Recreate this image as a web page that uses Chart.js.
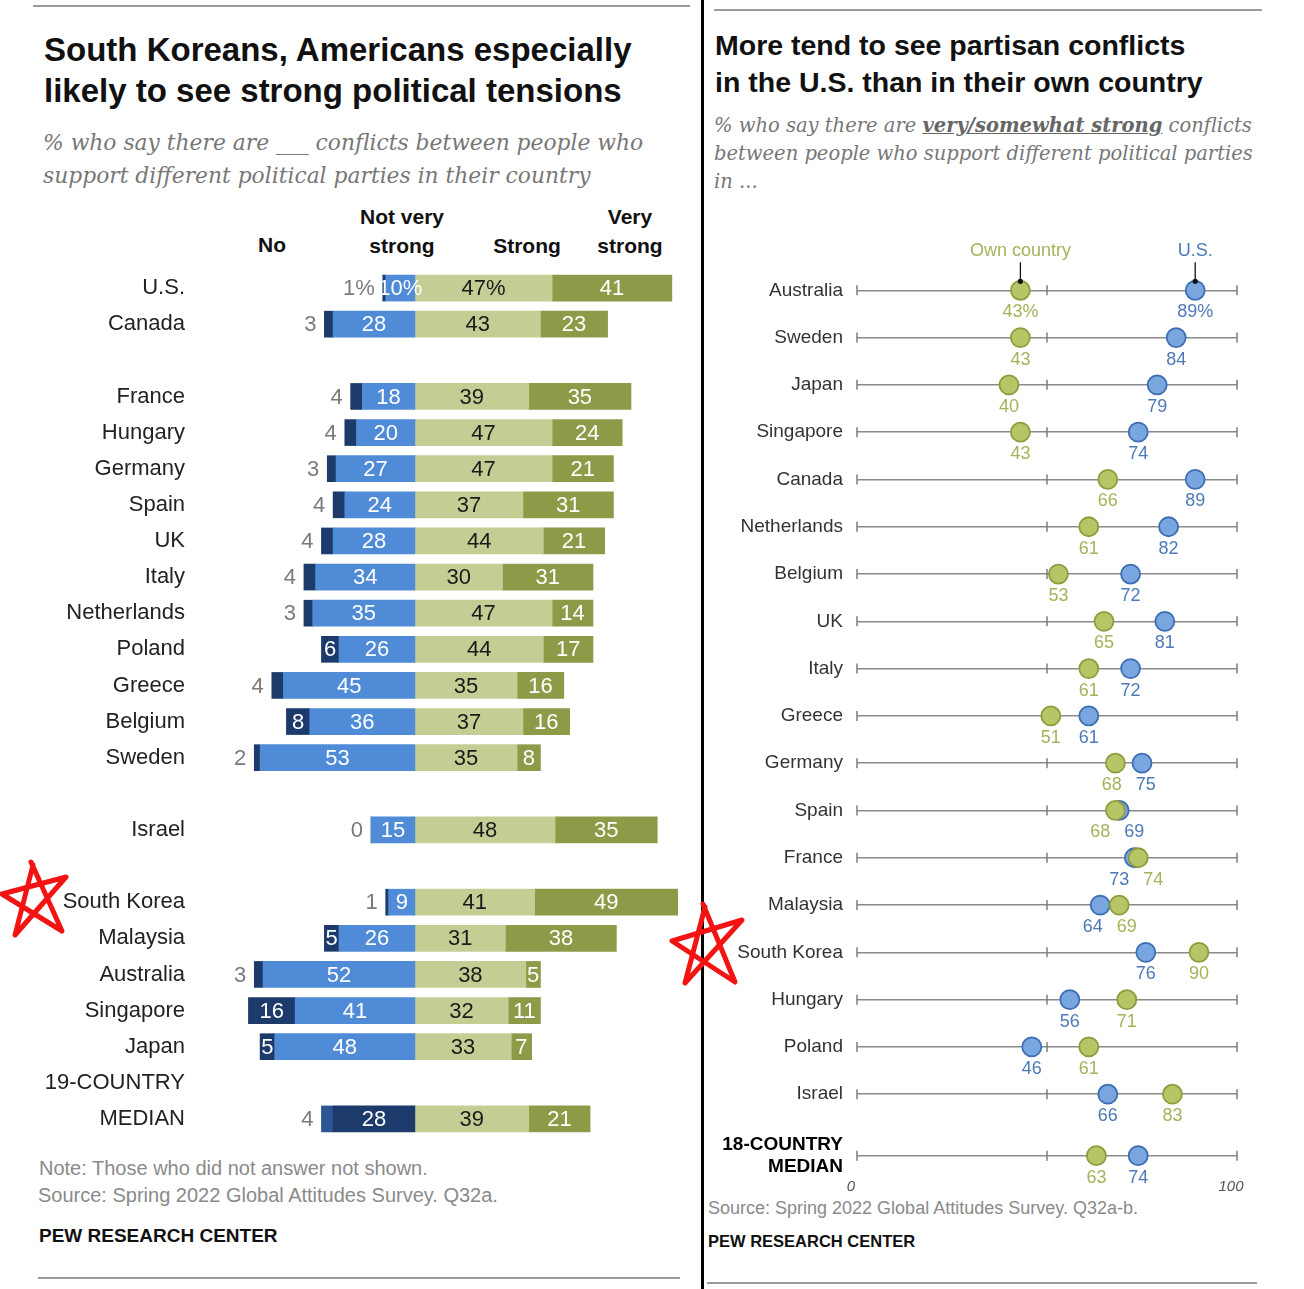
<!DOCTYPE html>
<html>
<head>
<meta charset="utf-8">
<script src="https://cdn.jsdelivr.net/npm/chart.js@4.4.0/dist/chart.umd.min.js"></script>
<style>
  body { margin:0; background:#fff; width:1304px; height:1289px; position:relative; overflow:hidden;
         font-family:"Liberation Sans", Arial, sans-serif; color:#111; }
  .t { position:absolute; white-space:nowrap; }
  .c { position:absolute; white-space:nowrap; transform:translateX(-50%); line-height:28px;
       font-weight:bold; font-size:21px; color:#111; }
  .rule { position:absolute; height:2px; background:#9a9a9a; }
  .sub { font-family:"DejaVu Serif", serif; font-style:italic; color:#777; }
  canvas { position:absolute; }
</style>
</head>
<body>

<div class="rule" style="left:33px;top:5px;width:657px"></div>
<div class="rule" style="left:714px;top:9px;width:548px"></div>
<div class="rule" style="left:38px;top:1277px;width:642px"></div>
<div class="rule" style="left:707px;top:1282px;width:550px"></div>
<div style="position:absolute;left:701px;top:0;width:3px;height:1289px;background:#000"></div>

<!-- left panel text -->
<div class="t" style="left:44px;top:29px;font-weight:bold;font-size:33px;line-height:41px">South Koreans, Americans especially<br>likely to see strong political tensions</div>
<div class="t sub" style="left:43px;top:126px;font-size:21.8px;line-height:33px">% who say there are ___ conflicts between people who<br>support different political parties in their country</div>

<div class="c" style="left:272px;top:231px">No</div>
<div class="c" style="left:402px;top:203px">Not very</div>
<div class="c" style="left:402px;top:232px">strong</div>
<div class="c" style="left:527px;top:232px">Strong</div>
<div class="c" style="left:630px;top:203px">Very</div>
<div class="c" style="left:630px;top:232px">strong</div>

<div class="t" style="left:39px;top:1155px;font-size:20px;line-height:26px;color:#8a8a8a">Note: Those who did not answer not shown.</div>
<div class="t" style="left:38px;top:1182px;font-size:20px;line-height:26px;color:#8a8a8a">Source: Spring 2022 Global Attitudes Survey. Q32a.</div>
<div class="t" style="left:39px;top:1223px;font-size:19px;line-height:26px;font-weight:bold;color:#111">PEW RESEARCH CENTER</div>

<!-- right panel text -->
<div class="t" style="left:715px;top:27px;font-weight:bold;font-size:28.5px;line-height:37px">More tend to see partisan conflicts<br>in the U.S. than in their own country</div>
<div class="t sub" style="left:714px;top:112px;font-size:19.5px;line-height:28px">% who say there are <b style="text-decoration:underline;color:#666">very/somewhat strong</b> conflicts<br>between people who support different political parties<br>in ...</div>
<div class="t" style="left:708px;top:1196px;font-size:18px;line-height:24px;color:#8a8a8a">Source: Spring 2022 Global Attitudes Survey. Q32a-b.</div>
<div class="t" style="left:708px;top:1229px;font-size:16.5px;line-height:24px;font-weight:bold;color:#111">PEW RESEARCH CENTER</div>

<canvas id="barChart" width="700" height="867" style="left:0;top:270px"></canvas>
<canvas id="dotChart" width="604" height="1000" style="left:700px;top:200px"></canvas>

<svg width="1304" height="1289" style="position:absolute;left:0;top:0;pointer-events:none">
  <polyline points="33,865 15,935 66,877 2,894 62,931 31,862" fill="none" stroke="#f21313" stroke-width="5" stroke-linejoin="round" stroke-linecap="round"/>
  <polyline points="705,907 685,983 742,920 672,941 735,982 703,904" fill="none" stroke="#f21313" stroke-width="5" stroke-linejoin="round" stroke-linecap="round"/>
</svg>

<script>
// left chart: strength of conflicts in own country

let barCountries = ['U.S.', 'Canada', '', 'France', 'Hungary', 'Germany', 'Spain', 'UK', 'Italy',
  'Netherlands', 'Poland', 'Greece', 'Belgium', 'Sweden', '', 'Israel', '', 'South Korea',
  'Malaysia', 'Australia', 'Singapore', 'Japan', '19-COUNTRY', 'MEDIAN'];

let noConflict   = [1, 3, null, 4, 4, 3, 4, 4, 4, 3, 6, 4, 8, 2, null, 0, null, 1, 5, 3, 16, 5, null, 4];
let notVeryStrong = [10, 28, null, 18, 20, 27, 24, 28, 34, 35, 26, 45, 36, 53, null, 15, null, 9, 26, 52, 41, 48, null, 28];
let strong       = [47, 43, null, 39, 47, 47, 37, 44, 30, 47, 44, 35, 37, 35, null, 48, null, 41, 31, 38, 32, 33, null, 39];
let veryStrong   = [41, 23, null, 35, 24, 21, 31, 21, 31, 14, 17, 16, 16, 8, null, 35, null, 49, 38, 5, 11, 7, null, 21];

// right chart: very/somewhat strong conflicts, own country vs U.S.

let dotCountries = ['Australia', 'Sweden', 'Japan', 'Singapore', 'Canada', 'Netherlands', 'Belgium', 'UK',
  'Italy', 'Greece', 'Germany', 'Spain', 'France', 'Malaysia', 'South Korea', 'Hungary', 'Poland',
  'Israel', ['18-COUNTRY', 'MEDIAN']];
let ownCountry = [43, 43, 40, 43, 66, 61, 53, 65, 61, 51, 68, 68, 74, 69, 90, 71, 61, 83, 63];
let inUS       = [89, 84, 79, 74, 89, 82, 72, 81, 72, 61, 75, 69, 73, 64, 76, 56, 46, 66, 74];
let dotTicks   = [0, 100];

const NAVY = '#1c3b6b', BLUE = '#4f8bd6', LIGHT = '#c6cd94', OLIVE = '#8e9a48';
const MEDIAN_ROW = barCountries.length - 1;
const labelFont = '22px "Liberation Sans", Arial, sans-serif';

let neg = arr => arr.map(v => v === null ? null : -v);

let barLabels = {
  id: 'barLabels',
  afterDatasetsDraw(chart) {
    let ctx = chart.ctx;
    ctx.save();
    ctx.font = labelFont;
    ctx.textBaseline = 'middle';
    chart.data.datasets.forEach((ds, di) => {
      let meta = chart.getDatasetMeta(di);
      meta.data.forEach((bar, i) => {
        let v = ds.raw[i];
        if (v === null) return;
        let left = Math.min(bar.x, bar.base), right = Math.max(bar.x, bar.base);
        let txt = String(v) + (i === 0 && di !== 3 ? '%' : '');
        if (ds.key === 'no' && v < 5) {
          ctx.fillStyle = '#7a7a7a';
          ctx.textAlign = 'right';
          ctx.fillText(txt, left - 8, bar.y + 1);
          return;
        }
        ctx.fillStyle = ds.key === 'strong' ? '#1a1a1a' : '#ffffff';
        ctx.textAlign = 'center';
        ctx.fillText(txt, (left + right) / 2, bar.y + 1);
      });
    });
    ctx.restore();
  }
};

new Chart(document.getElementById('barChart'), {
  type: 'bar',
  data: {
    labels: barCountries,
    datasets: [
      { key: 'nvs', label: 'Not very strong', data: neg(notVeryStrong), raw: notVeryStrong,
        backgroundColor: barCountries.map((c, i) => i === MEDIAN_ROW ? NAVY : BLUE) },
      { key: 'no', label: 'No', data: neg(noConflict), raw: noConflict,
        backgroundColor: barCountries.map((c, i) => i === MEDIAN_ROW ? '#2b5593' : NAVY) },
      { key: 'strong', label: 'Strong', data: strong, raw: strong, backgroundColor: LIGHT },
      { key: 'vs', label: 'Very strong', data: veryStrong, raw: veryStrong, backgroundColor: OLIVE }
    ]
  },
  options: {
    indexAxis: 'y',
    responsive: false,
    animation: false,
    barThickness: 26,
    layout: { padding: { top: 0, bottom: 0, left: 0, right: 15 } },
    plugins: { legend: { display: false }, tooltip: { enabled: false } },
    scales: {
      x: { stacked: true, display: false, min: -75.3, max: 92.5 },
      y: {
        stacked: true,
        grid: { display: false },
        border: { display: false },
        afterFit: s => { s.width = 195; s.paddingTop = 0; s.paddingBottom = 0; },
        ticks: { color: '#222', padding: 2, font: { size: 22, family: '"Liberation Sans", Arial, sans-serif' } }
      }
    }
  },
  plugins: [barLabels]
});

// dot plot

const GREEN_FILL = '#b7c566', GREEN_EDGE = '#8d9d3d', GREEN_TXT = '#a3b35a';
const BLUE_FILL = '#7aa6e0', BLUE_EDGE = '#3d6db3', BLUE_TXT = '#4d79b6';
let rowPos = dotCountries.map((c, i) => i < dotCountries.length - 1 ? i : i + 0.3);

let dotExtras = {
  id: 'dotExtras',
  beforeDatasetsDraw(chart) {
    let ctx = chart.ctx, x = chart.scales.x, y = chart.scales.y;
    ctx.save();
    ctx.strokeStyle = '#7d7d7d';
    ctx.lineWidth = 1.5;
    rowPos.forEach(p => {
      let py = y.getPixelForValue(p);
      [0, 50, 100].forEach(v => {
        let px = x.getPixelForValue(v);
        ctx.beginPath();
        ctx.moveTo(px, py - 5);
        ctx.lineTo(px, py + 5);
        ctx.stroke();
      });
    });
    ctx.restore();
  },
  afterDatasetsDraw(chart) {
    let ctx = chart.ctx, x = chart.scales.x, y = chart.scales.y;
    ctx.save();
    ctx.font = '18px "Liberation Sans", Arial, sans-serif';
    ctx.textAlign = 'center';
    ctx.textBaseline = 'middle';
    rowPos.forEach((p, i) => {
      let py = y.getPixelForValue(p) + 22;
      let gx = x.getPixelForValue(ownCountry[i]);
      let bx = x.getPixelForValue(inUS[i]);
      let gap = Math.abs(gx - bx);
      if (gap < 34) {
        let push = (34 - gap) / 2;
        if (gx <= bx) { gx -= push; bx += push; } else { gx += push; bx -= push; }
      }
      let pct = i === 0 ? '%' : '';
      ctx.fillStyle = GREEN_TXT;
      ctx.fillText(ownCountry[i] + pct, gx, py);
      ctx.fillStyle = BLUE_TXT;
      ctx.fillText(inUS[i] + pct, bx, py);
    });

    // series names above the first row
    let top = y.getPixelForValue(rowPos[0]);
    [[ownCountry[0], 'Own country', GREEN_TXT], [inUS[0], 'U.S.', BLUE_TXT]].forEach(([v, name, col]) => {
      let px = x.getPixelForValue(v);
      ctx.fillStyle = col;
      ctx.fillText(name, px, top - 39);
      ctx.strokeStyle = '#111';
      ctx.lineWidth = 1.3;
      ctx.beginPath();
      ctx.moveTo(px, top - 28);
      ctx.lineTo(px, top - 9);
      ctx.stroke();
      ctx.fillStyle = '#111';
      ctx.beginPath();
      ctx.arc(px, top - 9, 2.6, 0, Math.PI * 2);
      ctx.fill();
    });
    ctx.restore();
  }
};

let toPoints = vals => vals.map((v, i) => ({ x: v, y: rowPos[i] }));

new Chart(document.getElementById('dotChart'), {
  type: 'scatter',
  data: {
    datasets: [
      { label: 'Own country', data: toPoints(ownCountry), pointRadius: 9.5, borderWidth: 1.8,
        backgroundColor: GREEN_FILL, borderColor: GREEN_EDGE },
      { label: 'U.S.', data: toPoints(inUS), pointRadius: 9.5, borderWidth: 1.8,
        backgroundColor: BLUE_FILL, borderColor: BLUE_EDGE }
    ]
  },
  options: {
    responsive: false,
    animation: false,
    clip: false,
    layout: { padding: { top: 43, right: 67, left: 0, bottom: 0 } },
    plugins: { legend: { display: false }, tooltip: { enabled: false } },
    scales: {
      x: {
        min: 0, max: 100,
        grid: { display: false, drawTicks: false },
        border: { display: false },
        afterBuildTicks: s => { s.ticks = dotTicks.map(v => ({ value: v })); },
        afterFit: s => { s.height = 25; },
        ticks: { color: '#555', padding: 3, labelOffset: -6,
                 font: { size: 15, style: 'italic', family: '"Liberation Sans", Arial, sans-serif' } }
      },
      y: {
        type: 'linear',
        reverse: true,
        min: -1, max: 18.7,
        grid: { color: '#8a8a8a', lineWidth: 1.5, drawTicks: false },
        border: { display: false },
        afterBuildTicks: s => { s.ticks = rowPos.map(v => ({ value: v })); },
        afterFit: s => { s.width = 157; },
        ticks: {
          autoSkip: false,
          padding: 14,
          color: ctx => ctx.index === dotCountries.length - 1 ? '#000' : '#333',
          font: ctx => ({ size: 19, family: '"Liberation Sans", Arial, sans-serif',
                          weight: ctx.index === dotCountries.length - 1 ? 'bold' : 'normal', lineHeight: 1.2 }),
          callback: (v, i) => dotCountries[i]
        }
      }
    }
  },
  plugins: [dotExtras]
});
</script>
</body>
</html>
